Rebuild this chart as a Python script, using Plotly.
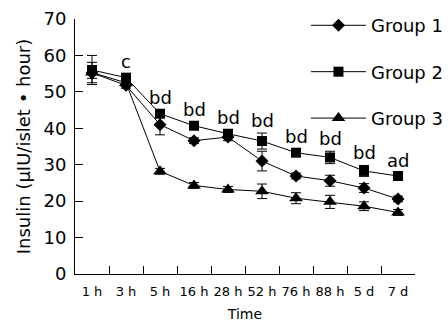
import plotly.graph_objects as go

times = ["1 h", "3 h", "5 h", "16 h", "28 h", "52 h", "76 h", "88 h", "5 d", "7 d"]
group1 = [55.2, 51.8, 41.0, 36.6, 37.6, 31.0, 26.9, 25.6, 23.6, 20.6]
group1_err = [1.5, 0.8, 2.8, 0.8, 1.0, 2.7, 0.8, 1.5, 1.2, 0.8]
group2 = [56.0, 53.9, 44.0, 40.7, 38.5, 36.5, 33.3, 32.0, 28.3, 26.9]
group2_err = [4.0, 0.8, 1.0, 0.8, 1.0, 2.2, 0.8, 1.7, 1.5, 0.8]
group3 = [55.3, 52.5, 28.2, 24.3, 23.2, 22.7, 20.8, 19.8, 18.6, 16.9]
group3_err = [2.8, 0.8, 0.8, 0.8, 0.8, 2.0, 1.5, 1.8, 1.2, 0.8]
sig_labels = ["", "c", "bd", "bd", "bd", "bd", "bd", "bd", "bd", "ad"]

FONT = "DejaVu Sans"

fig = go.Figure()
series = [
    ("Group 1", group1, group1_err, "diamond", 10),
    ("Group 2", group2, group2_err, "square", 10),
    ("Group 3", group3, group3_err, "triangle-up", 12),
]
for i, (name, ys, errs, sym, sz) in enumerate(series):
    fig.add_trace(go.Scatter(
        x=times, y=ys, name=name, mode="lines+markers",
        line=dict(color="black", width=1),
        marker=dict(symbol=sym, size=sz, color="black"),
        error_y=dict(type="data", array=errs, visible=True,
                     color="black", thickness=1, width=5),
        legendgroup=f"g{i}",
    ))

for t, v, e, lab in zip(times, group2, group2_err, sig_labels):
    if lab:
        fig.add_annotation(x=t, y=v + e, text=lab, showarrow=False,
                           yanchor="middle", yshift=13,
                           font=dict(family=FONT, size=18, color="black"))

fig.update_layout(
    width=448, height=322,
    margin=dict(l=75, r=33, t=19, b=48, autoexpand=False),
    paper_bgcolor="white", plot_bgcolor="white",
    font=dict(family=FONT, color="black"),
    showlegend=True,
    legend=dict(xref="container", yref="container",
                x=0.683, xanchor="left", y=0.978, yanchor="top",
                itemwidth=55,
                font=dict(family=FONT, size=18, color="black"),
                tracegroupgap=20, bgcolor="rgba(0,0,0,0)"),
    xaxis=dict(
        type="category", tickson="boundaries", ticks="inside", ticklen=8,
        tickcolor="black", showline=True, linecolor="black", linewidth=1,
        showgrid=False, zeroline=False, tickangle=0, ticklabelstandoff=5,
        tickfont=dict(family=FONT, size=13, color="black"),
        title=dict(text="Time", font=dict(family=FONT, size=14, color="black"),
                   standoff=11),
        range=[-0.5, 9.5],
    ),
    yaxis=dict(
        range=[0, 70], dtick=10, ticks="inside", ticklen=8,
        tickcolor="black", showline=True, linecolor="black", linewidth=1,
        showgrid=False, zeroline=False, ticklabelstandoff=4,
        tickfont=dict(family=FONT, size=18, color="black"),
        title=dict(text="Insulin (µIU/islet • hour)",
                   font=dict(family=FONT, size=18, color="black"), standoff=8),
    ),
)

fig.write_html("out.html", config={"displayModeBar": False},
               post_script="document.body.style.margin='0';")
